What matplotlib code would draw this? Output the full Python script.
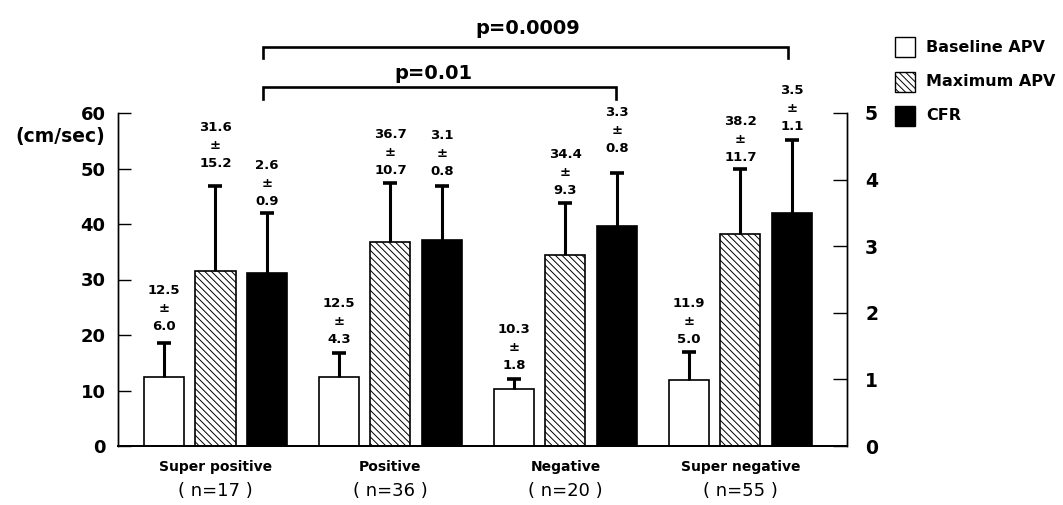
import matplotlib
matplotlib.use("Agg")
import matplotlib.pyplot as plt
from matplotlib.patches import Rectangle
import numpy as np

plt.rcParams['font.family'] = ['DejaVu Sans']
plt.rcParams['hatch.linewidth'] = 0.7

categories = ["Super positive", "Positive", "Negative", "Super negative"]
n_labels = ["( n=17 )", "( n=36 )", "( n=20 )", "( n=55 )"]
baseline_apv = [12.5, 12.5, 10.3, 11.9]
baseline_sd = [6.0, 4.3, 1.8, 5.0]
maximum_apv = [31.6, 36.7, 34.4, 38.2]
maximum_sd = [15.2, 10.7, 9.3, 11.7]
cfr = [2.6, 3.1, 3.3, 3.5]
cfr_sd = [0.9, 0.8, 0.8, 1.1]
left_ticks = [0, 10, 20, 30, 40, 50, 60]
right_ticks = [0, 1, 2, 3, 4, 5]
series_names = ["Baseline APV", "Maximum APV", "CFR"]
p_labels = ["p=0.0009", "p=0.01"]

W, H = 1063, 505
fig = plt.figure(figsize=(W / 100, H / 100), dpi=100)
ax = fig.add_axes([118 / W, 1 - 446 / H, (847 - 118) / W, (446 - 113) / H])
ax2 = ax.twinx()

x = np.arange(len(categories))
off = 0.294
bw = 0.229
hatch = '\\\\\\\\\\'

def draw_err(a, xs, vals, sds):
    for xi, v, s in zip(xs, vals, sds):
        a.vlines(xi, v, v + s, color='black', lw=2.2, zorder=3)
        a.plot([xi], [v + s], marker='_', ms=10, mew=2.6, color='black', zorder=3)

def draw_lbl(a, xs, vals, sds, offsets, fmt="{:.1f}"):
    for xi, v, s, dy in zip(xs, vals, sds, offsets):
        a.annotate(f"{fmt.format(v)}\n±\n{fmt.format(s)}", xy=(xi, v + s), xytext=(0, dy),
                   textcoords='offset points', ha='center', va='bottom',
                   fontsize=9.5, fontweight='bold', linespacing=1.5, annotation_clip=False)

ax.bar(x - off, baseline_apv, bw, color='white', edgecolor='black', lw=1.2, zorder=2)
ax.bar(x, maximum_apv, bw, color='white', edgecolor='black', lw=1.2, hatch=hatch, zorder=2)
ax2.bar(x + off, cfr, bw, color='black', edgecolor='black', lw=1.2, zorder=2)

draw_err(ax, x - off, baseline_apv, baseline_sd)
draw_err(ax, x, maximum_apv, maximum_sd)
draw_err(ax2, x + off, cfr, cfr_sd)
draw_lbl(ax, x - off, baseline_apv, baseline_sd, [7.5, 5, 5, 4.5])
draw_lbl(ax, x, maximum_apv, maximum_sd, [11.5, 4.5, 5, 3.5])
draw_lbl(ax2, x + off, cfr, cfr_sd, [3.5, 6, 13, 5])

ax.set_xlim(-0.557, 3.609)
ax.set_ylim(0, 60)
ax2.set_ylim(0, 5)
ax.set_yticks(left_ticks)
ax2.set_yticks(right_ticks)
ax.set_xticks([])
for a in (ax, ax2):
    a.spines['top'].set_visible(False)
    a.spines['left'].set_linewidth(1.0)
    a.spines['right'].set_linewidth(1.0)
    a.spines['bottom'].set_linewidth(1.3)
ax.tick_params(axis='y', direction='in', length=9, width=1.0, pad=9, labelsize=13)
ax2.tick_params(axis='y', direction='in', length=10, width=1.0, pad=13, labelsize=13.5)
for lab in ax.get_yticklabels() + ax2.get_yticklabels():
    lab.set_fontweight('bold')

ax.annotate("(cm/sec)", xy=(0, 60), xycoords=('axes fraction', 'data'), xytext=(-9, -17),
            textcoords='offset points', ha='right', va='center', fontsize=13.5, fontweight='bold',
            annotation_clip=False)

for xi, c, n in zip(x, categories, n_labels):
    ax.annotate(c, xy=(xi, 0), xytext=(0, -15), textcoords='offset points', ha='center',
                va='center', fontsize=10, fontweight='bold', annotation_clip=False)
    ax.annotate(n, xy=(xi, 0), xytext=(0, -32.5), textcoords='offset points', ha='center',
                va='center', fontsize=13, annotation_clip=False)

# significance brackets
def bracket(x0, x1, y, drop, label, lx, ly):
    ax.plot([x0, x0, x1, x1], [y - drop, y, y, y - drop], color='black', lw=1.9,
            clip_on=False, solid_joinstyle='miter')
    ax.text(lx, ly, label, ha='center', va='center', fontsize=14, fontweight='bold')

bracket(0 + 0.27, 3 + 0.27, 71.9, 2.0, p_labels[0], 1.786, 75.3)
bracket(0 + 0.27, 2 + 0.29, 64.7, 2.1, p_labels[1], 1.243, 67.2)

# legend
ys = [47, 82, 116]
styles = [dict(facecolor='white'), dict(facecolor='white', hatch=hatch), dict(facecolor='black')]
for yc, st, name in zip(ys, styles, series_names):
    r = Rectangle((895 / W, 1 - (yc + 10) / H), 20 / W, 20 / H, transform=fig.transFigure,
                  edgecolor='black', lw=1.0, **st)
    fig.add_artist(r)
    fig.text(926 / W, 1 - yc / H, name, ha='left', va='center', fontsize=11.5, fontweight='bold')

fig.savefig("out.png", dpi=100)
